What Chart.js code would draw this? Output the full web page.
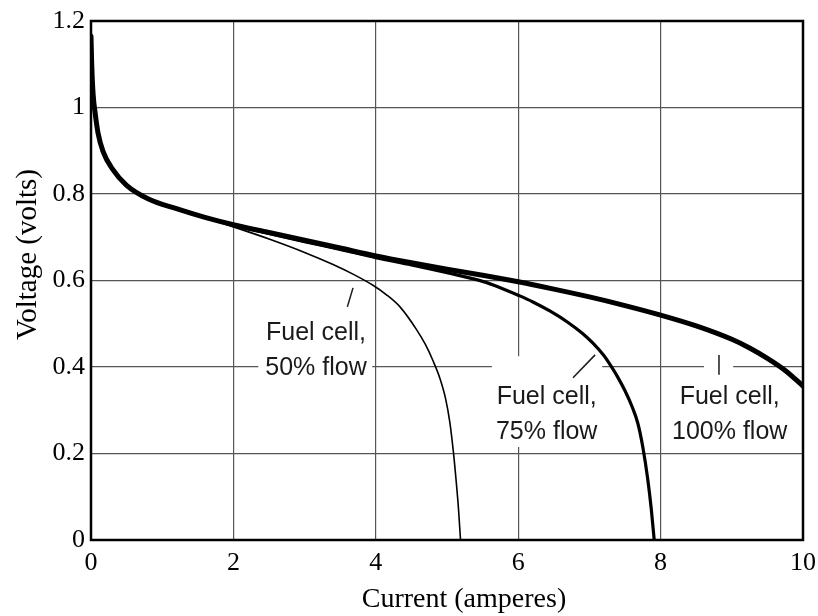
<!DOCTYPE html>
<html>
<head>
<meta charset="utf-8">
<script src="https://cdn.jsdelivr.net/npm/chart.js@4.4.0/dist/chart.umd.min.js"></script>
<style>
  html, body { margin: 0; padding: 0; background: #fff; }
  #wrap { width: 818px; height: 616px; }
</style>
</head>
<body>
<div id="wrap"><canvas id="fuel-chart" width="818" height="616"></canvas></div>
<script>
// Fuel cell polarization curves.
const current100 = [0, 0.01, 0.03, 0.06, 0.1, 0.17, 0.3, 0.5, 0.8, 1.2, 1.6, 2.0, 2.5, 3.0, 3.5, 4.0, 4.5, 5.0, 5.5, 6.0, 6.5, 7.0, 7.5, 8.0, 8.5, 9.0, 9.25, 9.5, 9.75, 10];
const voltage100 = [1.165, 1.10, 1.03, 0.985, 0.94, 0.898, 0.858, 0.820, 0.789, 0.766, 0.746, 0.729, 0.711, 0.693, 0.675, 0.657, 0.641, 0.626, 0.612, 0.597, 0.580, 0.562, 0.542, 0.520, 0.495, 0.464, 0.444, 0.420, 0.392, 0.356];

const current75 = [0, 0.01, 0.03, 0.06, 0.1, 0.17, 0.3, 0.5, 0.8, 1.2, 1.6, 2.0, 2.5, 3.0, 3.5, 4.0, 4.5, 5.0, 5.5, 5.74, 6.0, 6.2, 6.45, 6.7, 6.9, 7.05, 7.2, 7.3, 7.4, 7.5, 7.6, 7.68, 7.75, 7.82, 7.87, 7.91];
const voltage75 = [1.165, 1.10, 1.03, 0.985, 0.94, 0.898, 0.858, 0.820, 0.789, 0.766, 0.746, 0.728, 0.709, 0.690, 0.672, 0.653, 0.636, 0.618, 0.598, 0.584, 0.566, 0.551, 0.529, 0.503, 0.478, 0.455, 0.427, 0.403, 0.376, 0.345, 0.308, 0.270, 0.215, 0.140, 0.070, 0];

const current50 = [0, 0.01, 0.03, 0.06, 0.1, 0.17, 0.3, 0.5, 0.8, 1.2, 1.6, 2.0, 2.5, 3.0, 3.4, 3.7, 3.96, 4.15, 4.34, 4.57, 4.7, 4.81, 4.9, 4.98, 5.04, 5.09, 5.13, 5.16, 5.19];
const voltage50 = [1.165, 1.10, 1.03, 0.985, 0.94, 0.898, 0.858, 0.820, 0.789, 0.765, 0.745, 0.724, 0.696, 0.665, 0.637, 0.613, 0.589, 0.567, 0.539, 0.487, 0.451, 0.412, 0.374, 0.327, 0.272, 0.203, 0.134, 0.075, 0];

const xTicks = [0, 2, 4, 6, 8, 10];
const yTicks = [0, 0.2, 0.4, 0.6, 0.8, 1, 1.2];

// curve labels (data coordinates)
const labelLines = [['Fuel cell,', '50% flow'], ['Fuel cell,', '75% flow'], ['Fuel cell,', '100% flow']];
const labelX = [3.16, 6.40, 8.97];
const labelY = [0.440, 0.292, 0.292];
// white boxes behind the labels: xMin, xMax, yMin, yMax
const labelBoxes = [[2.35, 3.95, 0.365, 0.513], [5.63, 7.18, 0.215, 0.425], [8.08, 9.93, 0.213, 0.378], [8.61, 9.02, 0.370, 0.439]];
// leader strokes: x1, y1, x2, y2
const leaders = [[3.60, 0.539, 3.68, 0.583], [6.77, 0.375, 7.08, 0.428], [8.82, 0.382, 8.82, 0.428]];

const SERIF = "'Liberation Serif', 'Times New Roman', serif";
const SANS = "'Liberation Sans', Arial, sans-serif";

function pts(xs, ys) {
  return xs.map((x, i) => ({ x, y: ys[i] }));
}

// the figure's axis titles sit a bit off-centre
function offsetTitle(dx, dy) {
  return s => {
    if (s._titleShifted) return;
    s._titleShifted = true;
    const draw = s.drawTitle;
    s.drawTitle = function () {
      this.ctx.save();
      this.ctx.translate(dx, dy);
      draw.call(this);
      this.ctx.restore();
    };
  };
}

const labelPlugin = {
  id: 'curveLabels',
  beforeDatasetsDraw(chart) {
    const { ctx, scales: { x, y } } = chart;
    ctx.save();
    ctx.fillStyle = '#fff';
    labelBoxes.forEach(b => {
      const x0 = x.getPixelForValue(b[0]), x1 = x.getPixelForValue(b[1]);
      const y0 = y.getPixelForValue(b[3]), y1 = y.getPixelForValue(b[2]);
      ctx.fillRect(x0, y0, x1 - x0, y1 - y0);
    });
    ctx.fillStyle = '#1a1a1a';
    ctx.font = '25px ' + SANS;
    ctx.textAlign = 'center';
    ctx.textBaseline = 'middle';
    labelLines.forEach((lines, i) => {
      const cx = x.getPixelForValue(labelX[i]);
      const cy = y.getPixelForValue(labelY[i]);
      ctx.fillText(lines[0], cx, cy - 17);
      ctx.fillText(lines[1], cx, cy + 18);
    });
    ctx.strokeStyle = '#1a1a1a';
    ctx.lineWidth = 1.5;
    leaders.forEach(l => {
      ctx.beginPath();
      ctx.moveTo(x.getPixelForValue(l[0]), y.getPixelForValue(l[1]));
      ctx.lineTo(x.getPixelForValue(l[2]), y.getPixelForValue(l[3]));
      ctx.stroke();
    });
    ctx.restore();
  },
  afterDatasetsDraw(chart) {
    const { ctx, chartArea: a } = chart;
    ctx.save();
    ctx.strokeStyle = '#000';
    ctx.lineWidth = 2.5;
    ctx.strokeRect(a.left, a.top, a.right - a.left, a.bottom - a.top);
    ctx.restore();
  }
};

const curve = (data, width) => ({
  data,
  borderColor: '#000',
  backgroundColor: 'transparent',
  borderWidth: width,
  pointRadius: 0,
  cubicInterpolationMode: 'monotone',
  borderCapStyle: 'round',
  borderJoinStyle: 'round',
});

new Chart(document.getElementById('fuel-chart'), {
  type: 'line',
  data: {
    datasets: [
      curve(pts(current100, voltage100), 5),
      curve(pts(current75, voltage75), 3.2),
      curve(pts(current50, voltage50), 1.6),
    ],
  },
  options: {
    responsive: false,
    animation: false,
    layout: { padding: { top: 21, right: 15, left: 0, bottom: 0 } },
    plugins: { legend: { display: false }, tooltip: { enabled: false } },
    scales: {
      x: {
        type: 'linear',
        min: 0,
        max: 10,
        afterBuildTicks: s => { s.ticks = xTicks.map(v => ({ value: v })); },
        afterFit: s => {
          s.height = 76;
          s.paddingLeft = 0;
          s.paddingRight = 0;
          offsetTitle(17, 0)(s);
        },
        ticks: { font: { family: SERIF, size: 26 }, color: '#000', padding: 8, maxRotation: 0 },
        grid: { color: '#555', lineWidth: 1.2, drawTicks: false },
        border: { display: false },
        title: {
          display: true,
          text: 'Current (amperes)',
          font: { family: SERIF, size: 28 },
          color: '#000',
          padding: { top: 0, bottom: 0 },
        },
      },
      y: {
        min: 0,
        max: 1.2,
        afterBuildTicks: s => { s.ticks = yTicks.map(v => ({ value: v })); },
        afterFit: s => {
          s.width = 91;
          s.paddingTop = 0;
          s.paddingBottom = 0;
          offsetTitle(0, -26)(s);
        },
        ticks: {
          font: { family: SERIF, size: 26 },
          color: '#000',
          padding: 6,
          callback: v => String(+v.toFixed(1)),
        },
        grid: { color: '#555', lineWidth: 1.2, drawTicks: false },
        border: { display: false },
        title: {
          display: true,
          text: 'Voltage (volts)',
          font: { family: SERIF, size: 29 },
          color: '#000',
          padding: { top: 11, bottom: 0 },
        },
      },
    },
  },
  plugins: [labelPlugin],
});
</script>
</body>
</html>
